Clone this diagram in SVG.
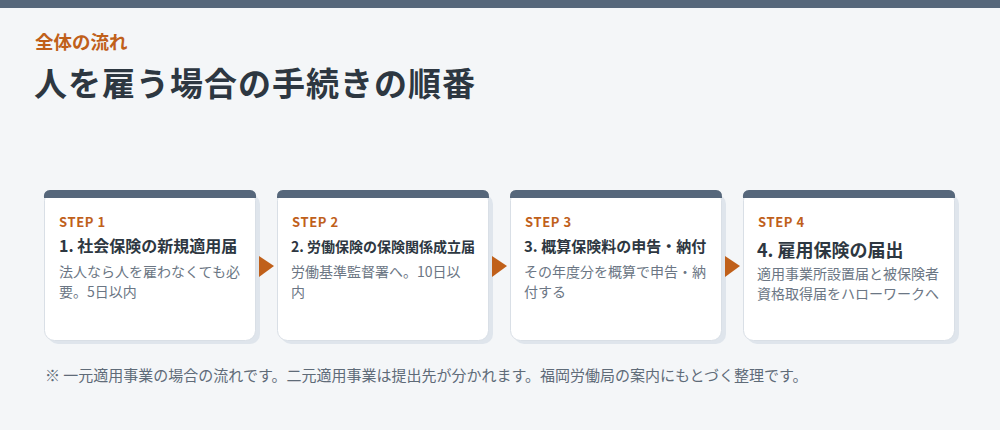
<svg xmlns="http://www.w3.org/2000/svg" width="1000" height="430" viewBox="0 0 1000 430">
<style>
text{font-family:"Noto Sans CJK JP","Noto Sans",sans-serif}
.eyebrow{font-size:18.5px;font-weight:700;fill:#c0601a}
.h1{font-size:33px;font-weight:700;fill:#2d3741}
.shadow{fill:#dfe5ec}
.card{fill:#ffffff;stroke:#d9dfe6;stroke-width:1}
.bar{fill:#56677b}
.step{font-size:13px;font-weight:700;fill:#c0601a;letter-spacing:0.6px}
.ttl{font-weight:700;fill:#2d3741}
.desc{font-size:14px;fill:#6b7684}
.arrow{fill:#c0601a}
.note{font-size:15px;fill:#5f6b78}
</style>
<rect width="1000" height="430" fill="#f4f6f8"/>
<rect width="1000" height="8" fill="#56677b"/>
<text class="eyebrow" x="35" y="49">全体の流れ</text>
<text class="h1" x="34" y="96" letter-spacing="1">人を雇う場合の手続きの順番</text>

<g id="step1">
<rect class="shadow" x="48" y="194" width="212" height="150" rx="10"/>
<rect class="card" x="44.5" y="190.5" width="211" height="150" rx="10"/>
<path class="bar" d="M44 197 a6 6 0 0 1 6 -7 h200 a6 6 0 0 1 6 7 v1 h-212 z"/>
<text class="step" x="59" y="227">STEP 1</text>
<text class="ttl" x="59" y="252" font-size="16">1. 社会保険の新規適用届</text>
<text class="desc" x="59" y="277">法人なら人を雇わなくても必</text>
<text class="desc" x="59" y="297">要。5日以内</text>
</g>

<g id="step2">
<rect class="shadow" x="281" y="194" width="212" height="150" rx="10"/>
<rect class="card" x="277.5" y="190.5" width="211" height="150" rx="10"/>
<path class="bar" d="M277 197 a6 6 0 0 1 6 -7 h200 a6 6 0 0 1 6 7 v1 h-212 z"/>
<text class="step" x="292" y="227">STEP 2</text>
<text class="ttl" x="291" y="252" font-size="14">2. 労働保険の保険関係成立届</text>
<text class="desc" x="291" y="277">労働基準監督署へ。10日以</text>
<text class="desc" x="291" y="297">内</text>
</g>

<g id="step3">
<rect class="shadow" x="514" y="194" width="212" height="150" rx="10"/>
<rect class="card" x="510.5" y="190.5" width="211" height="150" rx="10"/>
<path class="bar" d="M510 197 a6 6 0 0 1 6 -7 h200 a6 6 0 0 1 6 7 v1 h-212 z"/>
<text class="step" x="525" y="227">STEP 3</text>
<text class="ttl" x="524" y="252" font-size="15">3. 概算保険料の申告・納付</text>
<text class="desc" x="524" y="277">その年度分を概算で申告・納</text>
<text class="desc" x="524" y="297">付する</text>
</g>

<g id="step4">
<rect class="shadow" x="747" y="194" width="212" height="150" rx="10"/>
<rect class="card" x="743.5" y="190.5" width="211" height="150" rx="10"/>
<path class="bar" d="M743 197 a6 6 0 0 1 6 -7 h200 a6 6 0 0 1 6 7 v1 h-212 z"/>
<text class="step" x="758" y="227">STEP 4</text>
<text class="ttl" x="757" y="257" font-size="18">4. 雇用保険の届出</text>
<text class="desc" x="757" y="279">適用事業所設置届と被保険者</text>
<text class="desc" x="757" y="299">資格取得届をハローワークへ</text>
</g>

<g id="connectors">
<polygon class="arrow" points="259,256 274,266 259,277"/>
<polygon class="arrow" points="492,256 507,266 492,277"/>
<polygon class="arrow" points="725,256 740,266 725,277"/>
</g>

<text class="note" x="45" y="381">※ 一元適用事業の場合の流れです。二元適用事業は提出先が分かれます。福岡労働局の案内にもとづく整理です。</text>
</svg>
